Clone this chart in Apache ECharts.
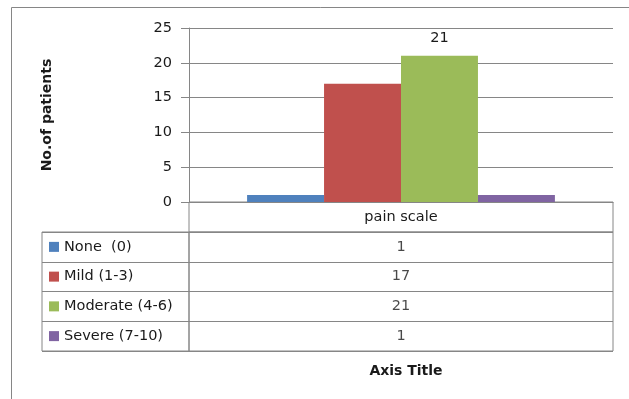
<!DOCTYPE html>
<html>
<head>
<meta charset="utf-8">
<title>pain scale</title>
<script src="https://cdn.jsdelivr.net/npm/echarts@6/dist/echarts.min.js"></script>
<style>
html, body { margin: 0; padding: 0; background: #fff; }
#chart { width: 629px; height: 399px; }
</style>
</head>
<body>
<div id="chart"></div>
<script>
// 类别（x轴只有一个）
var categories = ['pain scale'];
// 系列名称 -- 数据表的行
var seriesNames = ['None  (0)', 'Mild (1-3)', 'Moderate (4-6)', 'Severe (7-10)'];
// 每个系列的病人数
var seriesValues = [1, 17, 21, 1];
// 系列颜色
var seriesColors = ['#4F81BD', '#C0504D', '#9BBB59', '#8064A2'];
// y轴刻度
var yMin = 0, yMax = 25, yStep = 5;

var lineColor = '#868686';
var textColor = '#1a1a1a';
var fontName = '"DejaVu Sans", Verdana, sans-serif';
var fontSize = 14.5;

var myChart = echarts.init(document.getElementById('chart'));

//柱子，只有 Moderate 显示数值
var series = seriesNames.map(function(name, i) {
	return {
		name: name,
		type: 'bar',
		xAxisIndex: 0,
		yAxisIndex: 0,
		barGap: '0%',
		barCategoryGap: '27.4%',
		itemStyle: { color: seriesColors[i] },
		label: {
			show: i == 2,
			position: 'top',
			distance: 10,
			color: textColor,
			fontSize: fontSize,
			fontFamily: fontName
		},
		data: [seriesValues[i]]
	}
})

//数据表中的数值
series.push({
	type: 'scatter',
	xAxisIndex: 1,
	yAxisIndex: 1,
	symbolSize: 1,
	itemStyle: { color: 'rgba(0,0,0,0)' },
	silent: true,
	label: {
		show: true,
		position: 'inside',
		color: textColor,
		fontSize: fontSize,
		fontFamily: fontName,
		formatter: function(p) { return p.value[2] }
	},
	data: seriesNames.map(function(name, i) {
		return [categories[0], name, seriesValues[i]]
	})
})

//图例方块的 rich 样式
var rich = {};
seriesColors.forEach(function(c, i) {
	rich['c' + i] = { backgroundColor: c, width: 10, height: 10 };
})
rich.t = { color: textColor, fontSize: fontSize, fontFamily: fontName, padding: [0, 0, 0, 5] };

var hidden = { show: false };
var boldText = { fontSize: 14, fontWeight: 'bold', color: textColor, fontFamily: fontName };

var option = {
	animation: false,
	backgroundColor: '#fff',
	textStyle: { fontFamily: fontName },
	grid: [
		{ left: 189, right: 16, top: 28, height: 174 },
		{ left: 189, right: 16, top: 232, height: 119, show: true, borderColor: lineColor, borderWidth: 1 },
		{ left: 42, width: 147, top: 232, height: 119, show: true, borderColor: lineColor, borderWidth: 1 },
		{ left: 189, right: 16, top: 202, height: 30, show: true, borderColor: lineColor, borderWidth: 1 }
	],
	title: {
		text: 'Axis Title',
		left: 401,
		top: 359,
		textAlign: 'center',
		textStyle: boldText
	},
	graphic: [{
		type: 'rect',
		shape: { x: 11.5, y: 7.5, width: 700, height: 500 },
		style: { fill: 'none', stroke: lineColor, lineWidth: 1 },
		silent: true
	}],
	xAxis: [
		{
			gridIndex: 0,
			type: 'category',
			data: categories,
			axisLine: { lineStyle: { color: lineColor } },
			axisTick: { show: false },
			axisLabel: { margin: 8, color: textColor, fontSize: fontSize, fontFamily: fontName }
		},
		{ gridIndex: 1, type: 'category', data: categories, show: false },
		{ gridIndex: 2, type: 'category', data: categories, show: false },
		{ gridIndex: 3, type: 'category', data: categories, show: false }
	],
	yAxis: [
		{
			gridIndex: 0,
			type: 'value',
			min: yMin,
			max: yMax,
			interval: yStep,
			name: 'No.of patients',
			nameLocation: 'middle',
			nameRotate: 90,
			nameGap: 135,
			nameTextStyle: boldText,
			axisLine: { show: true, lineStyle: { color: lineColor } },
			axisTick: { show: true, length: 8, lineStyle: { color: lineColor } },
			axisLabel: { margin: 17, color: textColor, fontSize: fontSize, fontFamily: fontName },
			splitLine: { lineStyle: { color: lineColor } }
		},
		{
			gridIndex: 1,
			type: 'category',
			inverse: true,
			data: seriesNames,
			axisLine: hidden,
			axisTick: hidden,
			splitLine: { show: true, lineStyle: { color: lineColor } },
			axisLabel: {
				margin: 140,
				align: 'left',
				rich: rich,
				formatter: function(v, i) { return '{c' + i + '|}{t|' + v + '}' }
			}
		},
		{
			gridIndex: 2,
			type: 'category',
			inverse: true,
			data: seriesNames,
			axisLine: hidden,
			axisTick: hidden,
			axisLabel: hidden,
			splitLine: { show: true, lineStyle: { color: lineColor } }
		},
		{ gridIndex: 3, type: 'category', data: categories, show: false }
	],
	series: series
};

myChart.setOption(option);
</script>
</body>
</html>
